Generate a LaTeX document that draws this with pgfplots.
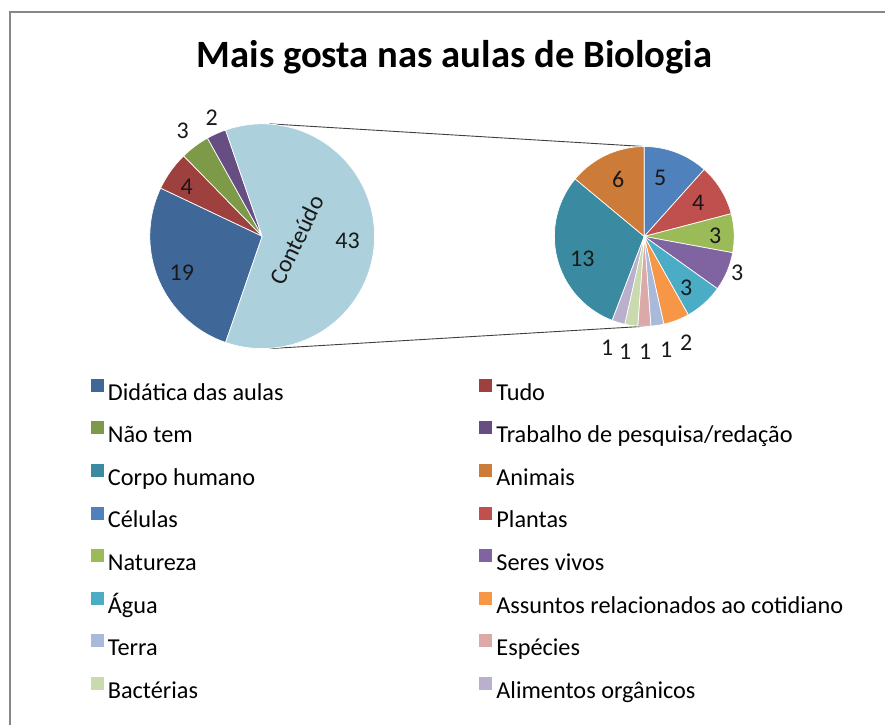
\documentclass[border=0pt]{standalone}
\usepackage{pgfplots}
\pgfplotsset{compat=1.18}
\usepackage{pgfplotstable}
\usepackage{fontspec}
\setmainfont{Carlito}

\definecolor{cDid}{HTML}{3F6797}
\definecolor{cTudo}{HTML}{9E413E}
\definecolor{cNao}{HTML}{7D9A48}
\definecolor{cTrab}{HTML}{664E82}
\definecolor{cCont}{HTML}{ACD0DC}
\definecolor{cCorpo}{HTML}{3A8BA1}
\definecolor{cAnim}{HTML}{CC7B38}
\definecolor{cCel}{HTML}{4F81BD}
\definecolor{cPlant}{HTML}{C0504D}
\definecolor{cNat}{HTML}{9BBB59}
\definecolor{cSeres}{HTML}{8064A2}
\definecolor{cAgua}{HTML}{4BACC6}
\definecolor{cAss}{HTML}{F79646}
\definecolor{cTerra}{HTML}{A8B9D9}
\definecolor{cEsp}{HTML}{DBA9A8}
\definecolor{cBac}{HTML}{C9DAAF}
\definecolor{cAli}{HTML}{BAAFCC}
\definecolor{frame}{HTML}{878787}

% first pie (the last row is the sum of the second pie: Conteudo)
\pgfplotstableread{
v c
19 cDid
4 cTudo
3 cNao
2 cTrab
43 cCont
}\firstpie

% second pie (Conteudo split)
\pgfplotstableread{
v c
13 cCorpo
6 cAnim
5 cCel
4 cPlant
3 cNat
3 cSeres
3 cAgua
2 cAss
1 cTerra
1 cEsp
1 cBac
1 cAli
}\secondpie

% draw a pie clockwise: #1 table, #2 cx, #3 cy, #4 radius, #5 start angle
\newcommand{\drawpie}[5]{%
  \pgfplotstablegetrowsof{#1}\pgfmathtruncatemacro{\nrows}{\pgfplotsretval-1}%
  \gdef\pietotal{0}%
  \pgfplotsforeachungrouped \i in {0,...,\nrows}{%
    \pgfplotstablegetelem{\i}{v}\of#1\let\val\pgfplotsretval
    \pgfmathsetmacro{\tmp}{\pietotal+\val}\global\let\pietotal\tmp}%
  \xdef\curang{#5}%
  \pgfplotsforeachungrouped \i in {0,...,\nrows}{%
    \pgfplotstablegetelem{\i}{v}\of#1\let\val\pgfplotsretval
    \pgfplotstablegetelem{\i}{c}\of#1\let\col\pgfplotsretval
    \pgfmathsetmacro{\endang}{\curang-\val/\pietotal*360}%
    \edef\temp{\noexpand\fill[\col, draw=white, line width=0.7pt, line join=round]
      (axis cs:#2,#3) -- ++(\curang:#4pt) arc[start angle=\curang, end angle=\endang, radius=#4pt] -- cycle;}%
    \temp
    \global\let\curang\endang}%
}

\begin{document}
\begin{tikzpicture}
\begin{axis}[
  width=886pt, height=726pt, scale only axis,
  xmin=0, xmax=886, ymin=0, ymax=726,
  hide axis, clip=false,
  legend columns=2,
  legend cell align=left,
  legend image code/.code={\fill[#1] (0pt,2.5pt) rectangle (13pt,15.5pt);},
  legend style={at={(axis cs:91,347)}, anchor=north west, draw=none, fill=none,
    inner sep=0pt, outer sep=0pt, row sep=15.2pt,
    font=\fontsize{24.3}{28}\selectfont,
    nodes={inner sep=0pt, text height=18pt, text depth=6pt},
    /tikz/every odd column/.append style={column sep=4pt},
    /tikz/every even column/.append style={column sep=196pt}},
]
\path (axis cs:0,0) rectangle (axis cs:886,726);
% frame
\draw[frame, line width=2pt] (axis cs:10,0) -- (axis cs:10,714) -- (axis cs:886,714);
% title
\node[font=\fontsize{38.7}{44}\selectfont\bfseries] at (axis cs:455,669) {Mais gosta nas aulas de Biologia};

% connector lines
\draw[black!75, line width=0.9pt] (axis cs:270,602) -- (axis cs:645,579.3);
\draw[black!75, line width=0.9pt] (axis cs:270,377) -- (axis cs:645,399.3);

% pies
\drawpie{\firstpie}{262.5}{489.5}{112.5}{-109.01}
\drawpie{\secondpie}{645}{489.3}{90}{249.07}

% legend
\addlegendimage{fill=cDid, draw=none}\addlegendentry{Didática das aulas}
\addlegendimage{fill=cTudo, draw=none}\addlegendentry{Tudo}
\addlegendimage{fill=cNao, draw=none}\addlegendentry{Não tem}
\addlegendimage{fill=cTrab, draw=none}\addlegendentry{Trabalho de pesquisa/redação}
\addlegendimage{fill=cCorpo, draw=none}\addlegendentry{Corpo humano}
\addlegendimage{fill=cAnim, draw=none}\addlegendentry{Animais}
\addlegendimage{fill=cCel, draw=none}\addlegendentry{Células}
\addlegendimage{fill=cPlant, draw=none}\addlegendentry{Plantas}
\addlegendimage{fill=cNat, draw=none}\addlegendentry{Natureza}
\addlegendimage{fill=cSeres, draw=none}\addlegendentry{Seres vivos}
\addlegendimage{fill=cAgua, draw=none}\addlegendentry{Água}
\addlegendimage{fill=cAss, draw=none}\addlegendentry{Assuntos relacionados ao cotidiano}
\addlegendimage{fill=cTerra, draw=none}\addlegendentry{Terra}
\addlegendimage{fill=cEsp, draw=none}\addlegendentry{Espécies}
\addlegendimage{fill=cBac, draw=none}\addlegendentry{Bactérias}
\addlegendimage{fill=cAli, draw=none}\addlegendentry{Alimentos orgânicos}

% data labels
\begin{scope}[every node/.style={font=\fontsize{24}{28}\selectfont, text=black!90, inner sep=0pt}]
\node at (axis cs:182,453) {19};
\node at (axis cs:187,539) {4};
\node at (axis cs:183,595) {3};
\node at (axis cs:212,608) {2};
\node at (axis cs:348,485) {43};
\node[rotate=64] at (axis cs:297,486) {Conteúdo};
\node at (axis cs:619,546) {6};
\node at (axis cs:661,548) {5};
\node at (axis cs:699,523) {4};
\node at (axis cs:716,490) {3};
\node at (axis cs:738,453) {3};
\node at (axis cs:687,438) {3};
\node at (axis cs:583,467) {13};
\node at (axis cs:687,383) {2};
\node at (axis cs:608,378) {1};
\node at (axis cs:626,374) {1};
\node at (axis cs:646,374) {1};
\node at (axis cs:667,376) {1};
\end{scope}
\end{axis}
\end{tikzpicture}
\end{document}
